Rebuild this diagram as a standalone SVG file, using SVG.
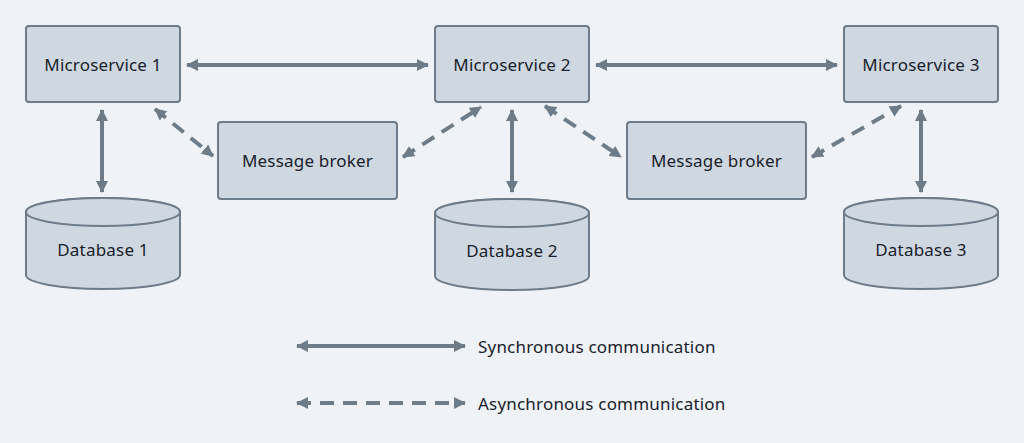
<svg xmlns="http://www.w3.org/2000/svg" width="1024" height="443" viewBox="0 0 1024 443">
<style>
.box{fill:#cfd8e1;stroke:#6e7b89;stroke-width:2}
.lbl{font-family:"Noto Sans","DejaVu Sans",sans-serif;font-size:17px;letter-spacing:0.2px;fill:#18212b;text-anchor:middle}
.leg{font-family:"Noto Sans","DejaVu Sans",sans-serif;font-size:17px;letter-spacing:0.2px;fill:#18212b}
.sync{stroke:#6e7b89;stroke-width:4;fill:none}
.async{stroke:#6e7b89;stroke-width:4;fill:none;stroke-dasharray:14 9}
</style>
<defs>
<marker id="ah" viewBox="0 0 12 12" refX="11" refY="6" markerWidth="12" markerHeight="12" markerUnits="userSpaceOnUse" orient="auto-start-reverse">
<path d="M0,0 L12,6 L0,12 z" fill="#6e7b89"/>
</marker>
</defs>
<rect width="1024" height="443" fill="#eff3f7"/>
<g id="ms1"><rect class="box" x="26" y="26" width="154" height="76" rx="3"/><text class="lbl" x="103" y="71">Microservice 1</text></g>
<g id="ms2"><rect class="box" x="435" y="26" width="154" height="76" rx="3"/><text class="lbl" x="512" y="71">Microservice 2</text></g>
<g id="ms3"><rect class="box" x="844" y="26" width="154" height="76" rx="3"/><text class="lbl" x="921" y="71">Microservice 3</text></g>
<g id="mb1"><rect class="box" x="218" y="122" width="179" height="77" rx="3"/><text class="lbl" x="307.5" y="167">Message broker</text></g>
<g id="mb2"><rect class="box" x="627" y="122" width="179" height="77" rx="3"/><text class="lbl" x="716.5" y="167">Message broker</text></g>
<g id="db1"><path class="box" d="M26,212 A77,14 0 0 1 180,212 L180,275 A77,14 0 0 1 26,275 Z"/><ellipse class="box" cx="103" cy="212" rx="77" ry="14"/><text class="lbl" x="103" y="256">Database 1</text></g>
<g id="db2"><path class="box" d="M435,213 A77,14 0 0 1 589,213 L589,276 A77,14 0 0 1 435,276 Z"/><ellipse class="box" cx="512" cy="213" rx="77" ry="14"/><text class="lbl" x="512" y="257">Database 2</text></g>
<g id="db3"><path class="box" d="M844,212 A77,14 0 0 1 998,212 L998,275 A77,14 0 0 1 844,275 Z"/><ellipse class="box" cx="921" cy="212" rx="77" ry="14"/><text class="lbl" x="921" y="256">Database 3</text></g>
<g id="connectors">
<line class="sync" x1="187" y1="65" x2="428" y2="65" marker-start="url(#ah)" marker-end="url(#ah)"/>
<line class="sync" x1="596" y1="65" x2="837" y2="65" marker-start="url(#ah)" marker-end="url(#ah)"/>
<line class="sync" x1="102" y1="110" x2="102" y2="192" marker-start="url(#ah)" marker-end="url(#ah)"/>
<line class="sync" x1="512" y1="110" x2="512" y2="192" marker-start="url(#ah)" marker-end="url(#ah)"/>
<line class="sync" x1="921" y1="110" x2="921" y2="192" marker-start="url(#ah)" marker-end="url(#ah)"/>
<line class="async" x1="155" y1="109" x2="213" y2="156" marker-start="url(#ah)" marker-end="url(#ah)"/>
<line class="async" x1="403" y1="157" x2="481" y2="107" marker-start="url(#ah)" marker-end="url(#ah)"/>
<line class="async" x1="545" y1="106" x2="621" y2="157" marker-start="url(#ah)" marker-end="url(#ah)"/>
<line class="async" x1="812" y1="157" x2="901" y2="106" marker-start="url(#ah)" marker-end="url(#ah)"/>
</g>
<g id="legend">
<line class="sync" x1="297" y1="346" x2="465" y2="346" marker-start="url(#ah)" marker-end="url(#ah)"/>
<text class="leg" x="478" y="353">Synchronous communication</text>
<line class="async" x1="297" y1="403" x2="465" y2="403" marker-start="url(#ah)" marker-end="url(#ah)"/>
<text class="leg" x="478" y="410">Asynchronous communication</text>
</g>
</svg>
